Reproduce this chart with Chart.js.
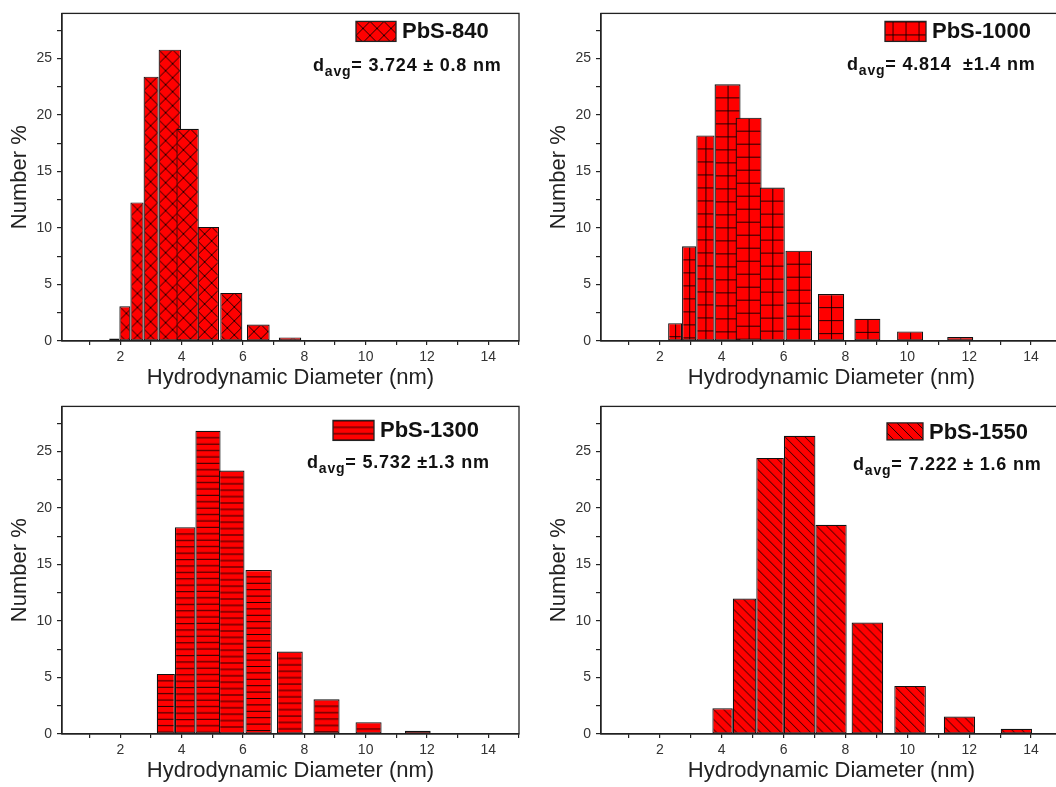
<!DOCTYPE html>
<html>
<head>
<meta charset="utf-8">
<script src="https://cdn.jsdelivr.net/npm/chart.js@4.4.1/dist/chart.umd.min.js"></script>
<style>
  html, body { margin: 0; padding: 0; background: #fff; width: 1056px; height: 787px; overflow: hidden; }
  canvas { position: absolute; }
</style>
</head>
<body>
<canvas id="c840" width="528" height="392" style="left:0px;top:0px"></canvas>
<canvas id="c1000" width="527" height="392" style="left:539px;top:0px"></canvas>
<canvas id="c1300" width="528" height="392" style="left:0px;top:393px"></canvas>
<canvas id="c1550" width="527" height="392" style="left:539px;top:393px"></canvas>
<script>
// size bins (nm): lower edge, upper edge, number %
var lo840  = [1.64, 1.97, 2.33, 2.76, 3.25, 3.83, 4.52, 5.26, 6.13, 7.17, 8.36];
var hi840  = [1.97, 2.33, 2.76, 3.25, 3.98, 4.56, 5.22, 5.98, 6.87, 7.90, 9.07];
var pct840 = [0.23, 3.07, 12.27, 23.4, 25.79, 18.78, 10.1, 4.26, 1.46, 0.32, 0.09];

var lo1000  = [2.27, 2.72, 3.18, 3.77, 4.45, 5.23, 6.06, 7.11, 8.29, 9.67, 11.29, 13.12];
var hi1000  = [2.72, 3.18, 3.77, 4.61, 5.29, 6.04, 6.92, 7.96, 9.13, 10.51, 12.13, 13.96];
var pct1000 = [1.58, 8.38, 18.2, 22.72, 19.77, 13.58, 8.0, 4.15, 1.96, 0.85, 0.35, 0.09];

var lo1300  = [3.19, 3.78, 4.45, 5.22, 6.08, 7.11, 8.30, 9.67, 11.28, 13.10];
var hi1300  = [3.78, 4.45, 5.27, 6.05, 6.94, 7.95, 9.15, 10.52, 12.12, 13.96];
var pct1300 = [5.32, 18.31, 26.84, 23.33, 14.52, 7.30, 3.07, 1.05, 0.29, 0.09];

var lo1550  = [3.70, 4.36, 5.12, 6.01, 7.03, 8.20, 9.58, 11.18, 13.02];
var hi1550  = [4.36, 5.12, 6.01, 7.03, 8.04, 9.22, 10.60, 12.19, 14.03];
var pct1550 = [2.28, 12.0, 24.44, 26.4, 18.52, 9.87, 4.26, 1.55, 0.47];

var xTitle = 'Hydrodynamic Diameter (nm)';
var yTitle = 'Number %';

var FONT = "'Liberation Sans', Arial, sans-serif";
Chart.defaults.font.family = FONT;

// hatch tiles: red fill with black strokes
function tile(kind) {
  var c = document.createElement('canvas');
  var w = 14, h = 14;
  if (kind === 'grid') { w = 13; h = 13; }
  if (kind === 'hline') { w = 8; h = 32; }
  if (kind === 'diag') { w = 10; h = 10; }
  c.width = w; c.height = h;
  var g = c.getContext('2d');
  g.fillStyle = '#ff0000';
  g.fillRect(0, 0, w, h);
  g.strokeStyle = 'rgba(0,0,0,0.85)';
  g.lineWidth = 1;
  g.beginPath();
  if (kind === 'cross') {
    [-w, 0, w].forEach(function (k) {
      g.moveTo(k - 1, -1); g.lineTo(k + w + 1, h + 1);
      g.moveTo(k - 1, h + 1); g.lineTo(k + w + 1, -1);
    });
  } else if (kind === 'grid') {
    g.moveTo(0.5, 0); g.lineTo(0.5, h);
    g.moveTo(0, 0.5); g.lineTo(w, 0.5);
  } else if (kind === 'hline') {
    for (var y = 0; y < h; y += 6.4) { g.moveTo(0, y + 0.5); g.lineTo(w, y + 0.5); }
  } else if (kind === 'diag') {
    [-w, 0, w].forEach(function (k) {
      g.moveTo(k - 1, -1); g.lineTo(k + w + 1, h + 1);
    });
  }
  g.stroke();
  return c;
}

function hist(id, lo, hi, pct, o) {
  var hatch = tile(o.kind);
  var canvas = document.getElementById(id);

  var bins = {
    id: 'bins',
    // place each bar between its own bin edges and hatch it from its top
    afterDatasetsUpdate: function (chart) {
      var xs = chart.scales.x;
      chart.getDatasetMeta(0).data.forEach(function (el, i) {
        var l = xs.getPixelForValue(lo[i]);
        var r = xs.getPixelForValue(hi[i]);
        el.x = (l + r) / 2;
        el.width = r - l;
        var p = chart.ctx.createPattern(hatch, 'repeat');
        p.setTransform(new DOMMatrix().translate(o.kind === 'grid' ? el.x : l, el.y));
        el.options = Object.assign({}, el.options, { backgroundColor: p });
      });
    },
    afterDraw: function (chart) {
      var ctx = chart.ctx, a = chart.chartArea;
      ctx.save();
      // frame
      ctx.strokeStyle = '#222';
      ctx.lineWidth = 1.3;
      ctx.strokeRect(a.left, a.top, a.right - a.left, a.bottom - a.top);
      // key swatch
      var bx = a.left + o.key[0], by = a.top + o.key[1], bw = o.key[2], bh = o.key[3];
      var p = ctx.createPattern(hatch, 'repeat');
      p.setTransform(new DOMMatrix().translate(o.kind === 'grid' ? bx + bw / 2 : bx, by));
      ctx.fillStyle = p;
      ctx.fillRect(bx, by, bw, bh);
      ctx.strokeRect(bx, by, bw, bh);
      ctx.fillStyle = '#111';
      ctx.textBaseline = 'alphabetic';
      ctx.textAlign = 'left';
      ctx.font = 'bold 22px ' + FONT;
      ctx.fillText(o.name, bx + bw + 6, by + 16.5);
      // mean diameter line
      var x = a.left + o.avg[0], y = a.top + o.avg[1];
      try { ctx.letterSpacing = '0.8px'; } catch (e) {}
      ctx.font = 'bold 18px ' + FONT;
      ctx.fillText('d', x, y);
      x += ctx.measureText('d').width;
      ctx.font = 'bold 14px ' + FONT;
      ctx.fillText('avg', x, y + 5);
      x += ctx.measureText('avg').width;
      ctx.font = 'bold 18px ' + FONT;
      ctx.fillText(o.text, x, y);
      ctx.restore();
    }
  };

  return new Chart(canvas, {
    type: 'bar',
    data: {
      datasets: [{
        label: o.name,
        data: pct.map(function (v, i) { return { x: (lo[i] + hi[i]) / 2, y: v }; }),
        backgroundColor: '#ff0000',
        borderColor: '#111',
        borderWidth: 1.2,
        borderSkipped: false
      }]
    },
    options: {
      responsive: false,
      animation: false,
      events: [],
      layout: { padding: { top: 9, right: o.padRight, left: 0, bottom: 0 } },
      plugins: { legend: { display: false }, tooltip: { enabled: false } },
      scales: {
        x: {
          type: 'linear',
          offset: false,
          min: 0.1, max: 15,
          afterFit: function (s) { s.height = 51; },
          ticks: {
            stepSize: 1, includeBounds: false, autoSkip: false, maxRotation: 0,
            padding: 4, color: '#333', font: { size: 14 },
            callback: function (v) { return (v % 2 === 0 && v < 15) ? v : ''; }
          },
          grid: { offset: false, drawOnChartArea: false, tickLength: 4, color: '#222', lineWidth: 1.2 },
          border: { color: '#222', width: 1.3 },
          title: { display: true, text: xTitle, color: '#222', font: { size: 22 }, padding: { top: 0, bottom: 1 } }
        },
        y: {
          min: 0, max: 29,
          afterFit: function (s) { s.width = 62; },
          ticks: {
            stepSize: 2.5, includeBounds: false, padding: 5, color: '#333', font: { size: 14 },
            callback: function (v) { return v % 5 === 0 ? v : ''; }
          },
          grid: { drawOnChartArea: false, tickLength: 5, color: '#222', lineWidth: 1.2 },
          border: { color: '#222', width: 1.3 },
          title: { display: true, text: yTitle, color: '#222', font: { size: 22 }, padding: { top: 7, bottom: 0 } }
        }
      }
    },
    plugins: [bins]
  });
}

hist('c840', lo840, hi840, pct840, {
  kind: 'cross', name: 'PbS-840', text: '= 3.724 \u00b1 0.8 nm',
  key: [294, 8, 40, 20], avg: [251, 57.5], padRight: 9
});
hist('c1000', lo1000, hi1000, pct1000, {
  kind: 'grid', name: 'PbS-1000', text: '= 4.814  \u00b11.4 nm',
  key: [284, 8, 41, 20], avg: [246, 56.7], padRight: 4
});
hist('c1300', lo1300, hi1300, pct1300, {
  kind: 'hline', name: 'PbS-1300', text: '= 5.732 \u00b11.3 nm',
  key: [271, 14, 41, 20], avg: [245, 62], padRight: 9
});
hist('c1550', lo1550, hi1550, pct1550, {
  kind: 'diag', name: 'PbS-1550', text: '= 7.222 \u00b1 1.6 nm',
  key: [286, 16.5, 36, 17], avg: [252, 63.7], padRight: 4
});
</script>
</body>
</html>
